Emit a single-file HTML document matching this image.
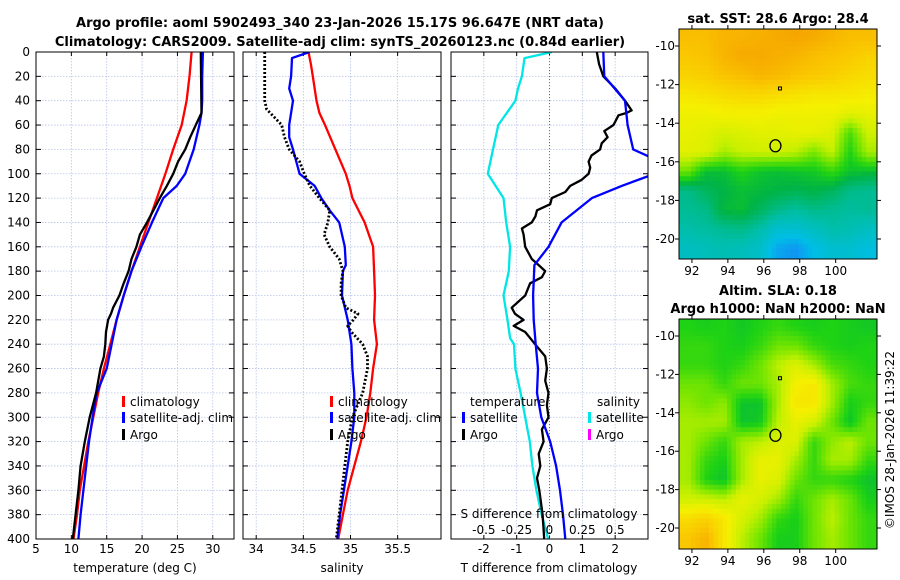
<!DOCTYPE html>
<html><head><meta charset="utf-8"><style>
html,body{margin:0;padding:0;background:#fff;}
svg{display:block;font-family:"DejaVu Sans","Liberation Sans",sans-serif;}
</style></head><body>
<svg id="fig" width="900" height="580" viewBox="0 0 900 580" xmlns="http://www.w3.org/2000/svg">
<defs>
<clipPath id="clipT"><rect x="36" y="52" width="198" height="487"/></clipPath>
<clipPath id="clipS"><rect x="243" y="52" width="198" height="487"/></clipPath>
<clipPath id="clipD"><rect x="451" y="52" width="197" height="487"/></clipPath>
<clipPath id="clipM1"><rect x="679" y="29" width="198" height="230"/></clipPath>
<clipPath id="clipM2"><rect x="679" y="319" width="198" height="230"/></clipPath>
</defs>
<g font-weight="bold" font-size="13" text-anchor="middle" fill="#000">
<text x="340" y="27">Argo profile: aoml 5902493_340 23-Jan-2026 15.17S 96.647E (NRT data)</text>
<text x="340" y="46">Climatology: CARS2009. Satellite-adj clim: synTS_20260123.nc (0.84d earlier)</text>
<text x="778" y="23">sat. SST: 28.6 Argo: 28.4</text>
<text x="778" y="295">Altim. SLA: 0.18</text>
<text x="778" y="313">Argo h1000: NaN h2000: NaN</text>
</g>
<g id="layer"></g>
<text transform="translate(894,440) rotate(-90)" font-size="12" text-anchor="middle">©IMOS 28-Jan-2026 11:39:22</text>
</svg>
<script>
// ---------- data ----------
const pressureTicks = [0,20,40,60,80,100,120,140,160,180,200,220,240,260,280,300,320,340,360,380,400];
const tempTicks = [5,10,15,20,25,30];
const salTicks = [34,34.5,35,35.5];
const salTickLabels = ["34","34.5","35","35.5"];
const diffTicks = [-2,-1,0,1,2];
const sdiffTicks = [-0.5,-0.25,0,0.25,0.5];
const sdiffTickLabels = ["-0.5","-0.25","0","0.25","0.5"];

const climP = [0,20,40,60,80,100,120,140,160,180,200,220,240,260,280,300,320,340,360,380,400];
const climT = [27.0,26.7,26.3,25.6,24.4,23.3,22.1,20.9,19.7,18.5,17.4,16.4,15.5,14.6,13.8,13.1,12.4,11.8,11.2,10.8,10.3];
const satP = [0,20,40,50,60,80,100,110,120,140,160,180,200,220,240,260,280,300,320,340,360,380,400];
const satT = [28.6,28.5,28.5,28.4,28.1,27.3,26.1,24.9,23.0,21.4,19.9,18.5,17.4,16.4,15.7,15.0,13.6,13.0,12.5,12.1,11.7,11.3,11.0];
const argoP = [0,50,55,60,70,80,90,100,110,120,130,140,150,160,170,180,190,200,210,215,220,230,240,250,260,280,300,320,340,360,380,400];
const argoT = [28.3,28.4,28.0,27.6,26.8,26.1,25.1,24.4,23.5,22.5,21.6,20.7,19.7,19.2,18.5,18.1,17.4,16.8,15.9,15.6,15.2,14.9,14.8,14.6,14.1,13.5,12.6,11.9,11.3,11.0,10.6,10.2];

const climSP = [0,10,20,40,50,60,80,100,110,120,140,160,180,200,220,240,260,280,300,320,340,360,380,400];
const climS = [34.555,34.58,34.60,34.64,34.67,34.73,34.84,34.95,34.99,35.02,35.15,35.24,35.25,35.26,35.25,35.28,35.24,35.21,35.17,35.11,35.04,34.97,34.92,34.87];
const satSP = [0,5,20,30,40,60,70,80,100,110,120,130,140,160,175,180,200,220,240,260,280,300,320,340,360,380,400];
const satS = [34.565,34.38,34.37,34.35,34.39,34.35,34.35,34.39,34.46,34.62,34.69,34.78,34.88,34.94,34.95,34.92,34.91,34.97,35.01,35.02,35.04,35.04,35.01,34.97,34.93,34.89,34.86];
const argoSP = [0,20,40,47,55,60,70,80,90,100,110,120,130,140,150,160,170,180,190,200,210,215,220,225,230,240,250,260,280,300,320,340,360,380,400];
const argoS = [34.09,34.09,34.09,34.11,34.21,34.27,34.30,34.35,34.46,34.51,34.57,34.67,34.78,34.76,34.72,34.78,34.88,34.92,34.90,34.90,34.95,35.08,35.03,34.97,35.01,35.13,35.18,35.18,35.13,35.02,34.97,34.94,34.91,34.88,34.85];

const dSatP = [0,20,40,60,80,88,100,110,120,140,160,175,200,220,240,260,280,300,320,340,360,380,400];
const dSatT = [1.64,1.67,2.3,2.38,2.55,3.2,3.2,2.2,1.29,0.37,-0.03,-0.46,-0.5,-0.48,-0.42,-0.35,-0.38,-0.25,0.02,0.2,0.32,0.41,0.48];
const dArgoP = [0,10,20,30,40,48,50,52,60,65,70,75,80,85,90,95,100,105,110,115,120,125,130,135,140,145,150,160,170,175,180,185,190,200,210,215,220,225,230,240,250,260,270,280,290,300,310,320,330,340,350,360,380,400];
const dArgoT = [1.44,1.51,1.64,2.0,2.3,2.5,2.35,2.1,1.95,1.67,1.77,1.59,1.54,1.28,1.19,1.24,1.19,0.98,0.63,0.48,0.07,0.02,-0.38,-0.43,-0.54,-0.84,-0.79,-0.74,-0.54,-0.33,-0.13,-0.23,-0.59,-0.74,-1.15,-1.05,-0.79,-1.09,-0.74,-0.44,-0.13,-0.08,-0.13,-0.03,-0.08,-0.03,-0.23,-0.18,-0.33,-0.28,-0.38,-0.31,-0.21,-0.16];
const dSatSP = [0,5,20,30,40,60,80,100,120,140,160,180,200,220,235,240,260,280,300,320,340,360,380,400];
const dSatS = [0.018,-0.19,-0.21,-0.24,-0.26,-0.39,-0.43,-0.47,-0.35,-0.33,-0.30,-0.31,-0.35,-0.32,-0.30,-0.27,-0.26,-0.22,-0.185,-0.15,-0.13,-0.10,-0.06,-0.01];

// map values (0..1 colour index), rows at lat centres -9.5..-20.5, cols at lon centres 91.8..101.8
const sstRows = [
[0.80,0.80,0.82,0.82,0.83,0.84,0.85,0.84,0.82,0.80,0.80],
[0.78,0.79,0.82,0.84,0.84,0.83,0.82,0.80,0.79,0.78,0.76],
[0.76,0.77,0.79,0.80,0.82,0.81,0.79,0.78,0.77,0.75,0.74],
[0.72,0.73,0.74,0.75,0.75,0.74,0.73,0.72,0.72,0.72,0.71],
[0.69,0.69,0.70,0.70,0.70,0.69,0.69,0.69,0.69,0.67,0.68],
[0.68,0.67,0.65,0.66,0.67,0.67,0.68,0.68,0.66,0.52,0.64],
[0.67,0.66,0.60,0.63,0.64,0.64,0.62,0.56,0.63,0.48,0.60],
[0.55,0.44,0.44,0.48,0.45,0.44,0.45,0.46,0.50,0.45,0.44],
[0.36,0.40,0.42,0.44,0.43,0.42,0.41,0.42,0.40,0.36,0.35],
[0.35,0.36,0.43,0.44,0.40,0.36,0.34,0.36,0.35,0.34,0.35],
[0.33,0.34,0.35,0.36,0.33,0.28,0.28,0.30,0.33,0.32,0.30],
[0.30,0.31,0.32,0.31,0.29,0.22,0.20,0.25,0.28,0.28,0.26]
];
const slaRows = [
[0.48,0.47,0.48,0.46,0.48,0.50,0.48,0.47,0.48,0.47,0.46],
[0.50,0.50,0.48,0.47,0.50,0.55,0.55,0.50,0.48,0.47,0.48],
[0.50,0.50,0.48,0.50,0.55,0.62,0.66,0.60,0.52,0.50,0.48],
[0.55,0.55,0.50,0.55,0.55,0.60,0.70,0.72,0.60,0.52,0.50],
[0.58,0.55,0.58,0.45,0.45,0.60,0.72,0.72,0.60,0.47,0.50],
[0.60,0.60,0.60,0.45,0.46,0.62,0.68,0.65,0.55,0.45,0.55],
[0.60,0.55,0.50,0.60,0.62,0.66,0.66,0.50,0.58,0.62,0.55],
[0.60,0.50,0.47,0.60,0.68,0.68,0.60,0.50,0.60,0.60,0.50],
[0.60,0.48,0.45,0.60,0.68,0.66,0.55,0.50,0.50,0.48,0.45],
[0.64,0.64,0.62,0.68,0.65,0.60,0.50,0.55,0.60,0.55,0.47],
[0.74,0.76,0.72,0.65,0.60,0.50,0.47,0.55,0.62,0.55,0.50],
[0.78,0.82,0.72,0.62,0.55,0.47,0.47,0.55,0.60,0.55,0.50]
];
const floatLon = 96.647, floatLat = -15.17;
const prevLon = 96.9, prevLat = -12.2;

// ---------- helpers ----------
const NS = "http://www.w3.org/2000/svg";
const layer = document.getElementById('layer');
function mk(tag, attrs, parent){ const e=document.createElementNS(NS,tag); for(const k in attrs) e.setAttribute(k,attrs[k]); (parent||layer).appendChild(e); return e; }
const Y0=52, Y1=539;
const yP = p => Y0 + p/400*(Y1-Y0);
const panels = {
 T:{x0:36,x1:234,v0:5,v1:33},
 S:{x0:243,x1:441,v0:33.86,v1:35.96},
 D:{x0:451,x1:648,v0:-3,v1:3}
};
const xOf = (pn,v)=> pn.x0 + (v-pn.v0)/(pn.v1-pn.v0)*(pn.x1-pn.x0);
const xSd = s => xOf(panels.D, s*4);

function panelFrame(pn, ticks, labels, name){
  const g = mk('g',{});
  
  
  ticks.forEach((t,i)=>{
    const x=xOf(pn,t);
    mk('line',{x1:x,x2:x,y1:Y0,y2:Y1,stroke:'#b8c4e8','stroke-width':0.8,'stroke-dasharray':'1.5,1.5'},g);
    mk('line',{x1:x,x2:x,y1:Y1,y2:Y1-4,stroke:'#000'},g);
    mk('line',{x1:x,x2:x,y1:Y0,y2:Y0+4,stroke:'#000'},g);
    if(labels){ const t2=mk('text',{x:x,y:553,'font-size':12,'text-anchor':'middle'},g); t2.textContent=labels[i]; }
  });
  pressureTicks.forEach(p=>{
    const y=yP(p);
    mk('line',{x1:pn.x0,x2:pn.x1,y1:y,y2:y,stroke:'#b8c4e8','stroke-width':0.8,'stroke-dasharray':'1.5,1.5'},g);
    mk('line',{x1:pn.x0,x2:pn.x0+5,y1:y,y2:y,stroke:'#000'},g);
    mk('line',{x1:pn.x1,x2:pn.x1-5,y1:y,y2:y,stroke:'#000'},g);
  });
  return g;
}
function drawLine(pn, xs, ps, color, name, dash, clip, xfn){
  const pts = xs.map((v,i)=>(xfn?xfn(v):xOf(pn,v)).toFixed(1)+','+yP(ps[i]).toFixed(1)).join(' ');
  const a={points:pts,fill:'none',stroke:color,'stroke-width':2.3,'stroke-linejoin':'round','clip-path':'url(#'+clip+')'};
  if(dash){a['stroke-dasharray']=dash; a['stroke-width']=2.8;}
  const l=mk('polyline',a);
  
  
}
function border(pn,name){
  const r=mk('rect',{x:pn.x0,y:Y0,width:pn.x1-pn.x0,height:Y1-Y0,fill:'none',stroke:'#000','stroke-width':1});
  
  
}
function txt(x,y,s,size,anchor,name){
  const t=mk('text',{x:x,y:y,'font-size':size,'text-anchor':anchor||'start'});
  t.textContent=s;
  
  
  return t;
}
function legendMark(x,y,color,name){
  const m=mk('rect',{x:x,y:y-10,width:3,height:11,fill:color});
  
  
}

// ---------- panel 1: temperature ----------
panelFrame(panels.T, tempTicks, tempTicks.map(String), 'temperature');
pressureTicks.forEach(p=>{
  txt(30,yP(p)+4,String(p),12,'end','pressure-tick-label');
});
drawLine(panels.T, climT, climP, '#ff0000','temperature-climatology-line',null,'clipT');
drawLine(panels.T, satT, satP, '#0000ff','temperature-satellite-line',null,'clipT');
drawLine(panels.T, argoT, argoP, '#000000','temperature-argo-line',null,'clipT');
border(panels.T,'temperature');
txt(135,572,'temperature (deg C)',12,'middle','temperature-axis-title');
legendMark(122,406,'#ff0000','legend-mark-climatology');
txt(130,406,'climatology',12,'start','legend-climatology');
legendMark(122,422,'#0000ff','legend-mark-satellite');
txt(130,422,'satellite-adj. clim',12,'start','legend-satellite-adj');
legendMark(122,439,'#000000','legend-mark-argo');
txt(130,439,'Argo',12,'start','legend-argo');

// ---------- panel 2: salinity ----------
panelFrame(panels.S, salTicks, salTickLabels, 'salinity');
drawLine(panels.S, climS, climSP, '#ff0000','salinity-climatology-line',null,'clipS');
drawLine(panels.S, satS, satSP, '#0000ff','salinity-satellite-line',null,'clipS');
drawLine(panels.S, argoS, argoSP, '#000000','salinity-argo-line','2,2','clipS');
border(panels.S,'salinity');
txt(342,572,'salinity',12,'middle','salinity-axis-title');
legendMark(330,406,'#ff0000','legend2-mark-climatology');
txt(338,406,'climatology',12,'start','legend2-climatology');
legendMark(330,422,'#0000ff','legend2-mark-satellite');
txt(338,422,'satellite-adj. clim',12,'start','legend2-satellite-adj');
legendMark(330,439,'#000000','legend2-mark-argo');
txt(338,439,'Argo',12,'start','legend2-argo');

// ---------- panel 3: differences ----------
panelFrame(panels.D, diffTicks, diffTicks.map(String), 'difference');
const zl=mk('line',{x1:xOf(panels.D,0),x2:xOf(panels.D,0),y1:Y0,y2:Y1,stroke:'#8a6a3a','stroke-width':1,'stroke-dasharray':'1,2'});


drawLine(panels.D, dSatS, dSatSP, '#00e5e5','salinity-satellite-diff-line',null,'clipD',xSd);
drawLine(panels.D, dArgoT, dArgoP, '#000000','temperature-argo-diff-line',null,'clipD');
drawLine(panels.D, dSatT, dSatP, '#0000ff','temperature-satellite-diff-line',null,'clipD');
border(panels.D,'difference');
txt(549,572,'T difference from climatology',12,'middle','t-difference-axis-title');
txt(549,518,'S difference from climatology',12,'middle','s-difference-axis-title');
sdiffTicks.forEach((s,i)=>{ txt(xSd(s),534,sdiffTickLabels[i],12,'middle','s-difference-tick-label'); });
txt(470,406,'temperature',12,'start','legend3-temperature-heading');
txt(597,406,'salinity',12,'start','legend3-salinity-heading');
legendMark(462,422,'#0000ff','legend3-mark-t-satellite');
txt(470,422,'satellite',12,'start','legend3-t-satellite');
legendMark(462,439,'#000000','legend3-mark-t-argo');
txt(470,439,'Argo',12,'start','legend3-t-argo');
legendMark(588,422,'#00e5e5','legend3-mark-s-satellite');
txt(596,422,'satellite',12,'start','legend3-s-satellite');
legendMark(588,439,'#ff00ff','legend3-mark-s-argo');
txt(596,439,'Argo',12,'start','legend3-s-argo');

// ---------- maps ----------
const stops=[[0.15,[30,110,255]],[0.25,[0,190,230]],[0.33,[0,190,170]],[0.42,[0,180,70]],[0.48,[30,210,20]],[0.56,[120,230,0]],[0.63,[200,240,0]],[0.70,[245,240,0]],[0.78,[250,200,0]],[0.86,[245,160,0]]];
function cmap(v){
  if(v<=stops[0][0]) return 'rgb('+stops[0][1]+')';
  for(let i=1;i<stops.length;i++){ if(v<=stops[i][0]){ const a=stops[i-1],b=stops[i],f=(v-a[0])/(b[0]-a[0]); return 'rgb('+a[1].map((c,k)=>Math.round(c+(b[1][k]-c)*f)).join(',')+')'; } }
  return 'rgb('+stops[stops.length-1][1]+')';
}
function sample(rows, lon, lat){
  // bilinear between cell centres
  let fc = lon - 91.78, fr = (-9.5) - lat;
  const nr=rows.length, nc=rows[0].length;
  fc=Math.max(0,Math.min(nc-1.0001,fc)); fr=Math.max(0,Math.min(nr-1.0001,fr));
  const c0=Math.floor(fc), r0=Math.floor(fr), dc=fc-c0, dr=fr-r0;
  const a=rows[r0][c0], b=rows[r0][c0+1], c=rows[r0+1][c0], d=rows[r0+1][c0+1];
  return a*(1-dc)*(1-dr)+b*dc*(1-dr)+c*(1-dc)*dr+d*dc*dr;
}
function drawMap(rows, m, name, clip){
  const lx = lon=> m.x0 + (lon-91.28)/(102.3-91.28)*(m.x1-m.x0);
  const ly = lat=> m.yA + (lat - (-10))/(-10)*(m.yB-m.yA);
  const g=mk('g',{'clip-path':'url(#'+clip+')'});
  
  
  const step=0.25;
  for(let lat=-9.0; lat>-21.3; lat-=step){
    for(let lon=91.2; lon<102.4; lon+=step){
      const v=sample(rows, lon+step/2, lat-step/2);
      const x=lx(lon), y=ly(lat);
      mk('rect',{x:x.toFixed(1),y:y.toFixed(1),width:(lx(lon+step)-x+0.6).toFixed(1),height:(ly(lat-step)-y+0.6).toFixed(1),fill:cmap(v)},g);
    }
  }
  mk('rect',{x:m.x0,y:m.y0,width:m.x1-m.x0,height:m.y1-m.y0,fill:'none',stroke:'#000','stroke-width':1});
  [92,94,96,98,100].forEach(lon=>{
    const x=lx(lon);
    mk('line',{x1:x,x2:x,y1:m.y1,y2:m.y1+4,stroke:'#000'});
    mk('line',{x1:x,x2:x,y1:m.y0,y2:m.y0-4,stroke:'#000'});
    txt(x,m.y1+16,String(lon),12,'middle',name+'-lon-label');
  });
  [-10,-12,-14,-16,-18,-20].forEach(lat=>{
    const y=ly(lat);
    mk('line',{x1:m.x0-4,x2:m.x0,y1:y,y2:y,stroke:'#000'});
    mk('line',{x1:m.x1,x2:m.x1+4,y1:y,y2:y,stroke:'#000'});
    txt(m.x0-4,y+4,String(lat),12,'end',name+'-lat-label');
  });
  const sq=mk('rect',{x:lx(prevLon)-1.5,y:ly(prevLat)-1.5,width:3,height:3,fill:'none',stroke:'#000','stroke-width':1});
  
  
  const ci=mk('ellipse',{cx:lx(floatLon),cy:ly(floatLat),rx:5.5,ry:6,fill:'none',stroke:'#000','stroke-width':1.3});
  
  
}
drawMap(sstRows,{x0:679,x1:877,y0:29,y1:259,yA:46,yB:239},'sst','clipM1');
drawMap(slaRows,{x0:679,x1:877,y0:319,y1:549,yA:336,yB:528},'sla','clipM2');
</script>
</body></html>
